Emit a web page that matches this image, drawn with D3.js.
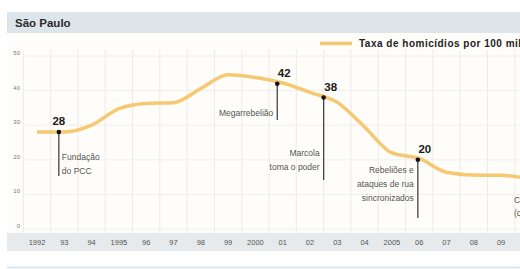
<!DOCTYPE html>
<html>
<head>
<meta charset="utf-8">
<script src="https://cdn.jsdelivr.net/npm/d3@7"></script>
<style>
  body { margin: 0; background: #fff; }
  svg { display: block; }
  text { font-family: "Liberation Sans", Arial, sans-serif; }
</style>
</head>
<body>
<svg id="chart" width="520" height="269"></svg>
<script>
// homicide rate per 100k, Sao Paulo
var years = [1992, 1993, 1994, 1995, 1996, 1997, 1998, 1999, 2000, 2001,
             2002, 2003, 2004, 2005, 2006, 2007, 2008, 2009, 2010];
var rates = [28, 28, 30, 34.8, 36.3, 36.5, 40.6, 44.6, 43.8, 42.2,
             39.5, 36.6, 29.5, 22, 20.4, 16.4, 15.6, 15.5, 14.6];

var yearLabels = ['1992', '93', '94', '1995', '96', '97', '98', '99', '2000', '01',
                  '02', '03', '04', '2005', '06', '07', '08', '09', '2010'];
var yTicks = [0, 10, 20, 30, 40, 50];

// events: position along the line, value label, note lines
var eventYears = [1992.8, 2000.8, 2002.5, 2005.95];
var eventValues = [28, 42, 38, 20];
var eventNotes = [['Fundação', 'do PCC'], ['Megarrebelião'], ['Marcola', 'toma o poder'],
                  ['Rebeliões e', 'ataques de rua', 'sincronizados']];

var svg = d3.select('#chart');

var x = d3.scaleLinear().domain([1992, 2010]).range([37, 37 + 18 * 27.3]);
var y = d3.scaleLinear().domain([0, 50]).range([229, 56]);
var step = x(1993) - x(1992);

// background pieces
svg.append('rect').attr('x', 7).attr('y', 33).attr('width', 513).attr('height', 200)
  .attr('fill', '#fefdf9');
svg.append('rect').attr('x', 7).attr('y', 12).attr('width', 513).attr('height', 21)
  .attr('fill', '#dde5ea');
svg.append('text').attr('x', 15).attr('y', 27)
  .attr('font-size', 11.5).attr('font-weight', 'bold').attr('fill', '#2b2b2b')
  .text('São Paulo');
svg.append('rect').attr('x', 7).attr('y', 233).attr('width', 513).attr('height', 18)
  .attr('fill', '#e6eaec');
svg.append('line').attr('x1', 7).attr('x2', 520).attr('y1', 267.5).attr('y2', 267.5)
  .attr('stroke', '#cfe6ee').attr('stroke-width', 1.5);

// grid
var grid = svg.append('g');
grid.selectAll('line.v')
  .data(years)
  .enter().append('line')
  .attr('class', 'v')
  .attr('x1', function(d) { return x(d) - step / 2; })
  .attr('x2', function(d) { return x(d) - step / 2; })
  .attr('y1', 50).attr('y2', 233)
  .attr('stroke', '#ebebeb').attr('stroke-width', 1);
grid.selectAll('line.h')
  .data(yTicks)
  .enter().append('line')
  .attr('class', 'h')
  .attr('x1', 25).attr('x2', 520)
  .attr('y1', function(d) { return y(d); })
  .attr('y2', function(d) { return y(d); })
  .attr('stroke', '#eeeeee').attr('stroke-width', 1);

// y axis labels
svg.append('g').selectAll('text')
  .data(yTicks)
  .enter().append('text')
  .attr('x', 20).attr('y', function(d) { return y(d) - 1; })
  .attr('text-anchor', 'end').attr('font-size', 6).attr('fill', '#777')
  .text(function(d) { return d; });

// x axis labels
svg.append('g').selectAll('text')
  .data(years)
  .enter().append('text')
  .attr('x', function(d) { return x(d); })
  .attr('y', 245)
  .attr('text-anchor', 'middle').attr('font-size', 7.5).attr('fill', '#555')
  .text(function(d, i) { return yearLabels[i]; });

// legend
svg.append('line').attr('x1', 320).attr('x2', 352).attr('y1', 43.5).attr('y2', 43.5)
  .attr('stroke', '#f6c872').attr('stroke-width', 3.5);
svg.append('text').attr('x', 359).attr('y', 47)
  .attr('font-size', 10).attr('font-weight', 'bold').attr('fill', '#222')
  .attr('letter-spacing', 0.5)
  .text('Taxa de homicídios por 100 mil');

// series line
var line = d3.line()
  .x(function(d, i) { return x(years[i]); })
  .y(function(d) { return y(d); })
  .curve(d3.curveMonotoneX);
svg.append('path')
  .datum(rates)
  .attr('d', line)
  .attr('fill', 'none')
  .attr('stroke', '#f6c872')
  .attr('stroke-width', 3.5)
  .attr('stroke-linejoin', 'round');

// annotations
var stemEnd = [176, 120, 180, 218];
var noteSide = ['right', 'left', 'left', 'left'];
var noteTop = [160, 116, 156, 173];

var ev = svg.append('g').selectAll('g')
  .data(eventYears)
  .enter().append('g');

ev.append('line')
  .attr('x1', function(d) { return x(d); })
  .attr('x2', function(d) { return x(d); })
  .attr('y1', function(d, i) { return y(eventValues[i]); })
  .attr('y2', function(d, i) { return stemEnd[i]; })
  .attr('stroke', '#444').attr('stroke-width', 1.3);

ev.append('circle')
  .attr('cx', function(d) { return x(d); })
  .attr('cy', function(d, i) { return y(eventValues[i]); })
  .attr('r', 2.3)
  .attr('fill', '#111');

ev.append('text')
  .attr('x', function(d, i) { return x(d) + (i === 0 ? 0 : 7); })
  .attr('y', function(d, i) { return y(eventValues[i]) - 7; })
  .attr('text-anchor', 'middle')
  .attr('font-size', 11.5).attr('font-weight', 'bold').attr('fill', '#1a1a1a')
  .text(function(d, i) { return eventValues[i]; });

ev.each(function(d, i) {
  var left = noteSide[i] === 'left';
  d3.select(this).append('text')
    .attr('text-anchor', left ? 'end' : 'start')
    .attr('font-size', 8.5).attr('fill', '#555')
    .selectAll('tspan')
    .data(eventNotes[i])
    .enter().append('tspan')
    .attr('x', x(d) + (left ? -4 : 3))
    .attr('y', function(t, j) { return noteTop[i] + j * 14; })
    .text(function(t) { return t; });
});

// cut-off note at the right edge
svg.append('text').attr('font-size', 8.5).attr('fill', '#555')
  .selectAll('tspan')
  .data(['Crimes', '(queda)'])
  .enter().append('tspan')
  .attr('x', 514)
  .attr('y', function(t, j) { return 203 + j * 13; })
  .text(function(t) { return t; });
</script>
</body>
</html>
